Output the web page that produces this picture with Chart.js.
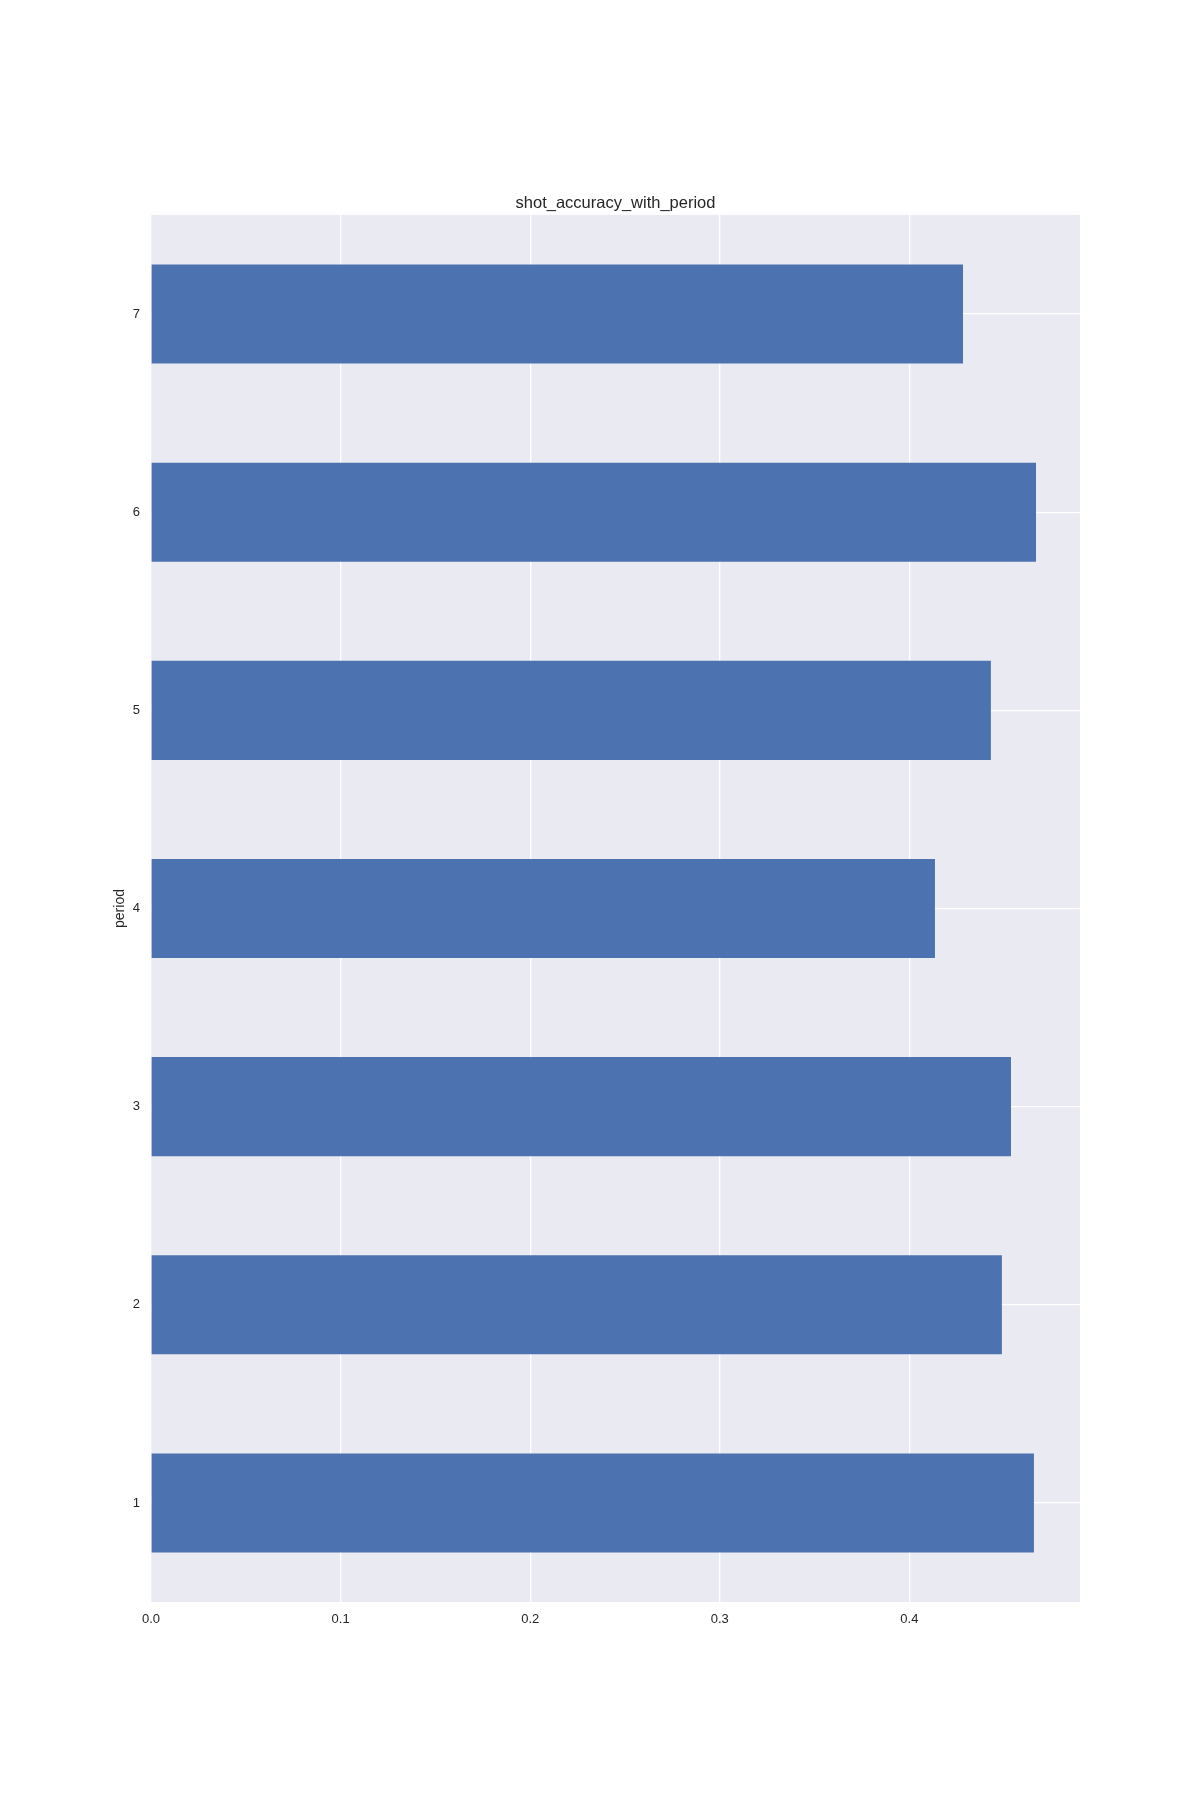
<!DOCTYPE html>
<html>
<head>
<meta charset="utf-8">
<script src="https://cdn.jsdelivr.net/npm/chart.js@4/dist/chart.umd.min.js"></script>
<style>
  html, body { margin: 0; padding: 0; background: #ffffff; }
  #wrap { width: 1200px; height: 1800px; }
</style>
</head>
<body>
<div id="wrap"><canvas id="c" width="1200" height="1800"></canvas></div>
<script>
const categories = ['1', '2', '3', '4', '5', '6', '7'];
const accuracy = [0.4657, 0.4488, 0.4536, 0.4135, 0.4430, 0.4668, 0.4283];
const xTicks = [0.0, 0.1, 0.2, 0.3, 0.4];
const xMax = 0.49;
const chartTitle = 'shot_accuracy_with_period';

const fontFamily = '"Liberation Sans", Arial, sans-serif';

const bgPlugin = {
  id: 'plotBg',
  beforeDraw(chart) {
    const { ctx, chartArea: a } = chart;
    ctx.save();
    ctx.fillStyle = '#EAEAF2';
    ctx.fillRect(a.left, a.top, a.right - a.left, a.bottom - a.top);
    ctx.restore();
  },
  afterDraw(chart) {
    const { ctx, chartArea: a } = chart;
    ctx.save();
    ctx.fillStyle = '#262626';
    ctx.font = '16.5px ' + fontFamily;
    ctx.textAlign = 'center';
    ctx.textBaseline = 'middle';
    ctx.fillText(chartTitle, (a.left + a.right) / 2, a.top - 12);
    ctx.restore();
  }
};

new Chart(document.getElementById('c'), {
  type: 'bar',
  data: {
    labels: categories,
    datasets: [{
      data: accuracy,
      backgroundColor: '#4C72B0',
      borderWidth: 0,
      barPercentage: 0.5,
      categoryPercentage: 1.0
    }]
  },
  options: {
    indexAxis: 'y',
    responsive: false,
    animation: false,
    devicePixelRatio: 1,
    layout: { padding: { left: 108, right: 120, top: 215, bottom: 150 } },
    plugins: {
      legend: { display: false },
      tooltip: { enabled: false },
      title: { display: false }
    },
    scales: {
      x: {
        type: 'linear',
        min: 0,
        max: xMax,
        afterBuildTicks(scale) { scale.ticks = xTicks.map(v => ({ value: v })); },
        afterFit(scale) { scale.height = 48; },
        border: { display: false },
        grid: { color: '#ffffff', lineWidth: 1.3, drawTicks: false },
        ticks: {
          color: '#262626',
          padding: 10,
          font: { family: fontFamily, size: 13 },
          callback: v => v.toFixed(1)
        }
      },
      y: {
        reverse: true,
        afterFit(scale) { scale.width = 43; },
        border: { display: false },
        grid: { color: '#ffffff', lineWidth: 1.3, drawTicks: false, offset: false },
        ticks: {
          color: '#262626',
          padding: 11,
          font: { family: fontFamily, size: 13 }
        },
        title: {
          display: true,
          text: 'period',
          color: '#262626',
          font: { family: fontFamily, size: 14 },
          padding: { top: 4, bottom: 4 }
        }
      }
    }
  },
  plugins: [bgPlugin]
});
</script>
</body>
</html>
